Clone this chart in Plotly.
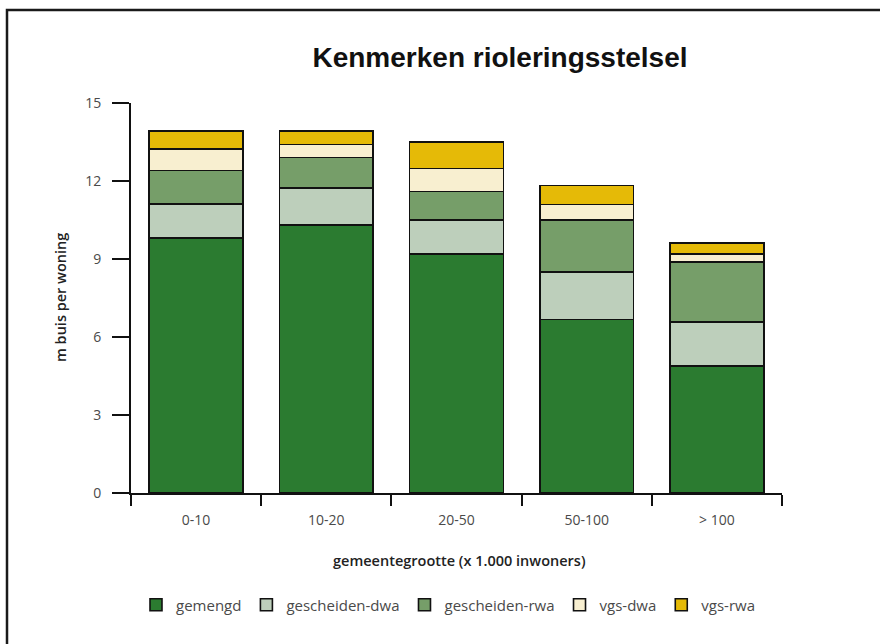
import plotly.graph_objects as go

# Gemeentegrootte-klassen (x 1.000 inwoners)
categories = ["0-10", "10-20", "20-50", "50-100", "> 100"]

# Meters buis per woning, per type stelsel
gemengd = [9.81, 10.30, 9.19, 6.68, 4.88]
gescheiden_dwa = [1.30, 1.42, 1.31, 1.82, 1.70]
gescheiden_rwa = [1.29, 1.18, 1.10, 2.00, 2.31]
vgs_dwa = [0.82, 0.50, 0.88, 0.60, 0.30]
vgs_rwa = [0.70, 0.53, 1.02, 0.72, 0.42]

y_ticks = [0, 3, 6, 9, 12, 15]

series = [
    ("gemengd", gemengd, "#2B7B30"),
    ("gescheiden-dwa", gescheiden_dwa, "#BDCFBB"),
    ("gescheiden-rwa", gescheiden_rwa, "#769E69"),
    ("vgs-dwa", vgs_dwa, "#F8EFD0"),
    ("vgs-rwa", vgs_rwa, "#E5BA07"),
]

W, H = 880, 644
L, R, T, B = 131, 98, 103, 151
pw, ph = W - L - R, H - T - B

fig = go.Figure()
for name, vals, col in series:
    fig.add_trace(go.Bar(
        x=categories, y=vals, name=name,
        marker=dict(color=col, line=dict(color="#111111", width=1.6)),
        width=0.72,
    ))

tick_font = dict(family="Open Sans, Noto Sans, sans-serif", size=14, color="#4a4a4a")
label_font = dict(family="Open Sans, Noto Sans, sans-serif", size=14.5, color="#222222", weight=600)

fig.update_layout(
    width=W, height=H,
    margin=dict(l=L, r=R, t=T, b=B),
    paper_bgcolor="white", plot_bgcolor="white",
    barmode="stack", bargap=0.28,
    title=dict(
        text="Kenmerken rioleringsstelsel",
        font=dict(family="Liberation Sans, Arial, sans-serif", size=28, color="#111111", weight="bold"),
        x=500 / W, xanchor="center", xref="container",
        y=1 - 57 / H, yanchor="middle", yref="container",
    ),
    xaxis=dict(
        range=[-0.5, 4.5], showgrid=False, zeroline=False,
        showline=True, linecolor="#111111", linewidth=2,
        ticks="outside", tickson="boundaries", ticklen=11, tickwidth=2, tickcolor="#111111",
        tickfont=tick_font, ticklabelstandoff=13,
    ),
    yaxis=dict(
        range=[0, 15], tickvals=y_ticks, showgrid=False, zeroline=False,
        showline=True, linecolor="#111111", linewidth=2,
        ticks="outside", ticklen=17, tickwidth=2, tickcolor="#111111",
        tickfont=tick_font, ticklabelstandoff=8,
    ),
    legend=dict(
        orientation="h", x=(136 - L) / pw, xanchor="left",
        y=(T + ph - 605) / ph, yanchor="middle",
        font=dict(family="Open Sans, Noto Sans, sans-serif", size=15, color="#4a4a4a"),
        traceorder="normal",
    ),
    annotations=[
        dict(text="m buis per woning", textangle=-90, xref="paper", yref="paper",
             x=0, xshift=60 - L, y=0.5, showarrow=False, font=label_font,
             xanchor="center", yanchor="middle"),
        dict(text="gemeentegrootte (x 1.000 inwoners)", xref="paper", yref="paper",
             x=(459 - L) / pw, y=(T + ph - 560) / ph, showarrow=False, font=label_font,
             xanchor="center", yanchor="middle"),
    ],
    shapes=[
        dict(type="rect", xref="paper", yref="paper",
             x0=(7 - L) / pw, x1=(W + 20 - L) / pw,
             y0=(T + ph - (H + 20)) / ph, y1=(T + ph - 10) / ph,
             line=dict(color="#1a1a1a", width=2.5), fillcolor="rgba(0,0,0,0)", layer="below"),
    ],
)

fig.write_html("out.html")
